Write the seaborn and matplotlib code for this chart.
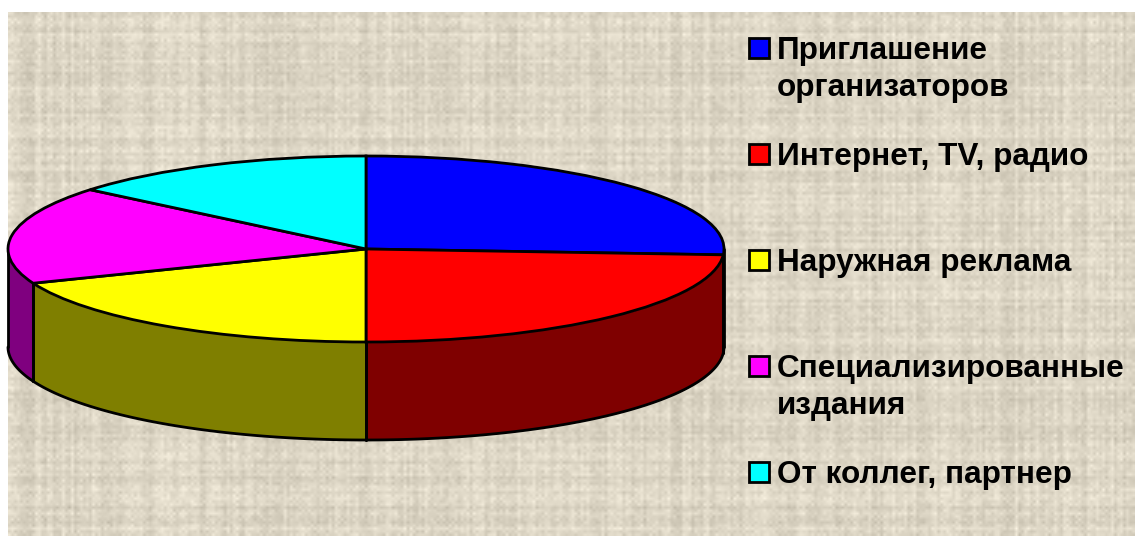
import numpy as np
import seaborn as sns
import matplotlib.pyplot as plt
from matplotlib.patches import Rectangle

categories = ["Приглашение\nорганизаторов", "Интернет, TV, радио", "Наружная реклама",
              "Специализированные\nиздания", "От коллег, партнер"]
values = [26, 24, 19, 17, 14]
top_colors = ["#0000FF", "#FF0000", "#FFFF00", "#FF00FF", "#00FFFF"]
side_colors = ["#00007F", "#7F0000", "#7F7F00", "#7F007F", "#007F7F"]

W, H = 1135, 536
DEPTH = 98 / 93


def thread(idx, seed):
    # uneven thread strength in -1..1, so the weave does not look regular
    v = np.sin(idx * 12.9898 + seed) * 43758.5453
    return 2 * (v - np.floor(v)) - 1


sns.set_theme(style="white")
plt.rcParams["font.family"] = ["Liberation Sans", "DejaVu Sans"]

fig = plt.figure(figsize=(W / 100, H / 100), dpi=100, facecolor="white")

# burlap background
bg = fig.add_axes([0, 0, 1, 1])
cell = 3.0
cols = np.arange(int((W - 8) / cell) + 1)
rows = np.arange(int((H - 12) / cell) + 1)
cc, rr = np.meshgrid(cols, rows)
warp = thread(cc, 1.3)
weft = thread(rr, 4.1)
speck = thread(cc * 7.3 + rr * 131.7, 2.2)
patch = np.sin(cc * 0.37 + rr * 0.23) * np.sin(rr * 0.41 - cc * 0.19)
weave = np.where((cc + rr) % 2 == 0, 1.0, -1.0)
shade = 9 * warp + 9 * weft + 6 * weave * (0.5 + 0.5 * patch) + 10 * speck
base = np.array([221, 214, 197])
tex = np.clip(base[None, None, :] + shade[..., None], 0, 255) / 255
bg.imshow(tex, extent=[8, W, H, 12], aspect="auto", interpolation="bilinear")
bg.set_xlim(0, W)
bg.set_ylim(H, 0)
bg.axis("off")

# pie axes, stretched so the unit circle becomes the flat ellipse
left, right, top, bottom = 8, 724, 156, 440
ax = fig.add_axes([left / W, 1 - bottom / H, (right - left) / W, (bottom - top) / H])
ax.patch.set_alpha(0)

wedges, _ = ax.pie(values, colors=top_colors, startangle=90, counterclock=False, radius=1,
                   wedgeprops={"edgecolor": "black", "linewidth": 2, "zorder": 5})
for w in wedges:
    w.set_clip_on(False)

# rim of the disc, only the front half shows
edges = 90 - np.cumsum([0] + values) * 360 / sum(values)
for i in range(len(values)):
    s0, s1 = max(edges[i + 1], -180), min(edges[i], 0)
    if s0 >= s1:
        continue
    t = np.radians(np.linspace(s0, s1, 120))
    px = np.cos(t)
    py = np.sin(t)
    ax.fill_between(px, py, py - DEPTH, color=side_colors[i], linewidth=0, zorder=2, clip_on=False)
    ax.plot(px, py - DEPTH, color="black", lw=2, zorder=3, clip_on=False)
    for tt in (s0, s1):
        c, s = np.cos(np.radians(tt)), np.sin(np.radians(tt))
        ax.plot([c, c], [s, s - DEPTH], color="black", lw=2, zorder=3, clip_on=False)

ax.set_aspect("auto")
ax.set_xlim(-1, 1)
ax.set_ylim(1 - (bottom - top) / 93, 1)
ax.axis("off")

# legend
text_y = [49, 155, 261, 367, 473]
for label, color, ty in zip(categories, top_colors, text_y):
    bg.add_patch(Rectangle((749, ty - 11), 20, 20, facecolor=color, edgecolor="black", lw=2, zorder=5))
    bg.text(777, ty - 12.5, label, fontsize=22.7, fontweight="bold", color="black",
            va="top", ha="left", linespacing=1.27, zorder=5)

fig.savefig("out.png", dpi=100)
